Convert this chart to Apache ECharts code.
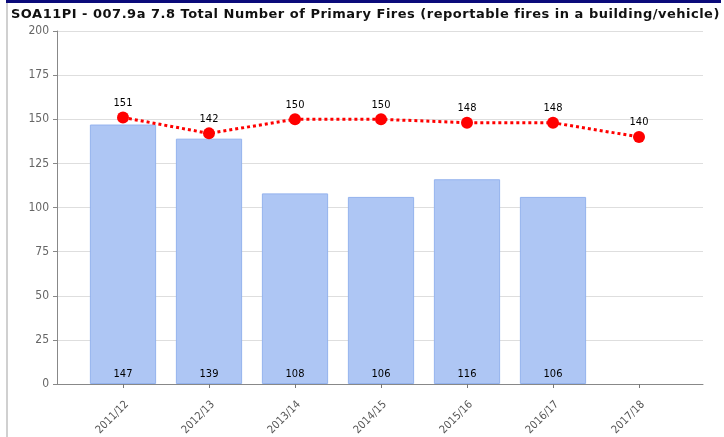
<!DOCTYPE html>
<html>
<head>
<meta charset="utf-8">
<script src="https://cdn.jsdelivr.net/npm/echarts@6/dist/echarts.min.js"></script>
<style>
  html, body { margin: 0; padding: 0; background: #fff; }
  #wrap { position: relative; width: 724px; height: 437px; overflow: hidden; }
  #topbar { position: absolute; left: 6px; top: 0; width: 715px; height: 3px; background: #0a0a7a; }
  #leftbar { position: absolute; left: 6px; top: 3px; width: 2px; height: 434px; background: #d0d0d0; }
  #title { position: absolute; left: 11px; top: 6px; font: bold 13px "DejaVu Sans", sans-serif; letter-spacing: 0.5px; color: #111; white-space: nowrap; }
  #chart { position: absolute; left: 0; top: 0; width: 724px; height: 437px; }
</style>
</head>
<body>
<div id="wrap">
  <div id="chart"></div>
  <div id="topbar"></div>
  <div id="leftbar"></div>
  <div id="title">SOA11PI - 007.9a 7.8 Total Number of Primary Fires (reportable fires in a building/vehicle)</div>
</div>
<script>
// Financial years shown along the bottom axis
const years = ['2011/12', '2012/13', '2013/14', '2014/15', '2015/16', '2016/17', '2017/18'];
// Actual primary fires per year (no figure yet for the latest year)
const actualFires = [147, 139, 108, 106, 116, 106, null];
// Target line
const targetFires = [151, 142, 150, 150, 148, 148, 140];
// Value axis range
const yMin = 0, yMax = 200, yStep = 25;

const font = '"DejaVu Sans Condensed", "DejaVu Sans", sans-serif';
const chart = echarts.init(document.getElementById('chart'));

chart.setOption({
  animation: false,
  grid: [
    // frame grid: value axis, gridlines and baseline
    { left: 57, right: 21, top: 31, bottom: 53, containLabel: false, outerBoundsMode: 'none' },
    // data grid, inset so the categories sit inside the frame
    { left: 80, right: 42, top: 31, bottom: 53, containLabel: false, outerBoundsMode: 'none' }
  ],
  xAxis: [
    {
      gridIndex: 0, type: 'category', data: [''],
      axisLine: { lineStyle: { color: '#888', width: 1 } },
      axisTick: { show: false }, axisLabel: { show: false }
    },
    {
      gridIndex: 1, type: 'category', data: years,
      axisLine: { show: false },
      axisTick: { show: true, alignWithLabel: true, length: 4, lineStyle: { color: '#777' } },
      axisLabel: {
        rotate: 45, margin: 15, fontSize: 11, fontFamily: font, color: '#555',
        verticalAlign: 'top'
      }
    }
  ],
  yAxis: [
    {
      gridIndex: 0, type: 'value', min: yMin, max: yMax, interval: yStep,
      axisLine: { show: true, lineStyle: { color: '#888' } },
      axisTick: { show: true, length: 4, lineStyle: { color: '#888' } },
      axisLabel: { fontSize: 12, fontFamily: font, color: '#666', margin: 8 },
      splitLine: { lineStyle: { color: '#dedede', width: 1 } }
    },
    {
      gridIndex: 1, type: 'value', min: yMin, max: yMax, interval: yStep,
      show: false, splitLine: { show: false }
    }
  ],
  series: [
    {
      type: 'bar', xAxisIndex: 1, yAxisIndex: 1,
      data: actualFires, barWidth: '77%',
      itemStyle: { color: '#aec6f4', borderColor: '#94b3ee', borderWidth: 1 },
      label: {
        show: true, position: 'insideBottom', distance: 4,
        fontSize: 11, fontFamily: font, color: '#000'
      }
    },
    {
      type: 'line', xAxisIndex: 1, yAxisIndex: 1,
      data: targetFires,
      symbol: 'circle', symbolSize: 12,
      lineStyle: { color: '#ff0000', width: 3, type: [3, 3] },
      itemStyle: { color: '#ff0000' },
      label: {
        show: true, position: 'top', distance: 3,
        fontSize: 11, fontFamily: font, color: '#000'
      },
      z: 5
    }
  ]
});
</script>
</body>
</html>
